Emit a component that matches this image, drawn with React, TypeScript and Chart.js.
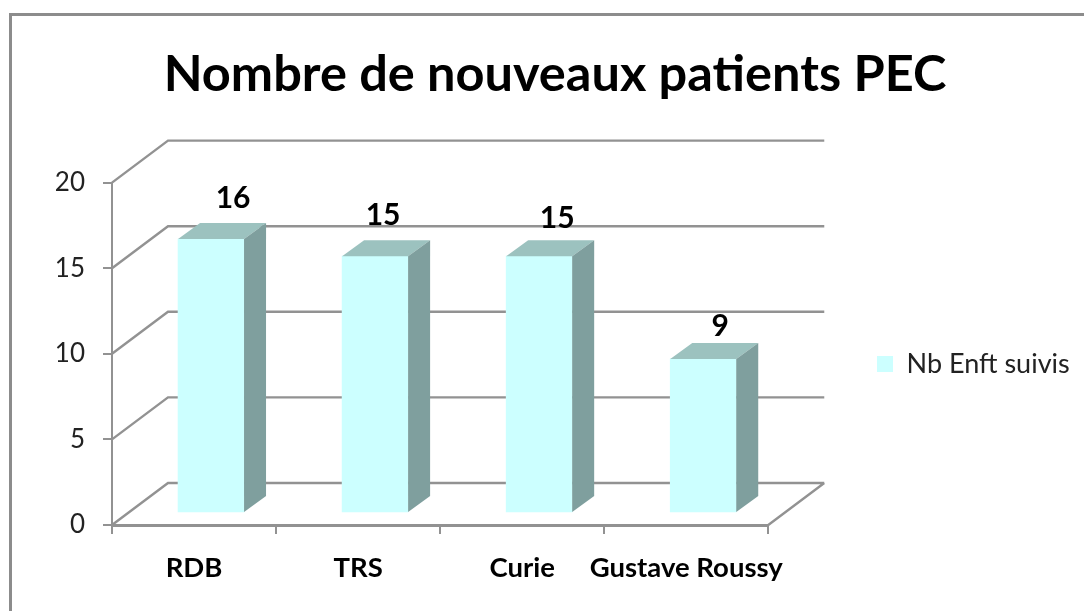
import React, { useEffect, useRef } from "react";
import { Chart, registerables } from "chart.js";

Chart.register(...registerables);

const categories = ["RDB", "TRS", "Curie", "Gustave Roussy"];
const seriesName = "Nb Enft suivis";
const values = [16, 15, 15, 9];
const titleText = "Nombre de nouveaux patients PEC";

const FONT = "Lato, Carlito, sans-serif";
const GRID = "#929292";
const WALL = { dx: 56, dy: 42 };
const BAR_SHIFT = { dx: 17, dy: 12 };
const BAR_DEPTH = { dx: 22, dy: 16 };
const LABEL_NUDGE = [
  { dx: 0, dy: 0 },
  { dx: -14, dy: 0 },
  { dx: -4, dy: 3 },
  { dx: -5, dy: 8 },
];

const scene3d = {
  id: "scene3d",
  afterLayout(chart: any) {
    const lg = chart.legend;
    const w = lg.right - lg.left;
    const h = lg.bottom - lg.top;
    lg.left = 869;
    lg.right = 869 + w;
    lg.top = 364 - h / 2;
    lg.bottom = 364 + h / 2;
    chart.titleBlock.left = 26;
    chart.titleBlock.right = 1084;
  },
  beforeDraw(chart: any) {
    const { ctx, scales, chartArea } = chart;
    ctx.save();
    ctx.strokeStyle = "#8c8c8c";
    ctx.lineWidth = 3;
    ctx.beginPath();
    ctx.moveTo(10.5, 611);
    ctx.lineTo(10.5, 14.5);
    ctx.lineTo(1084, 14.5);
    ctx.stroke();

    ctx.strokeStyle = GRID;
    ctx.lineWidth = 2.4;
    const { left, right } = chartArea;
    ctx.beginPath();
    scales.y.ticks.forEach((t: any) => {
      const y = scales.y.getPixelForValue(t.value);
      ctx.moveTo(left, y);
      ctx.lineTo(left + WALL.dx, y - WALL.dy);
      ctx.lineTo(right + WALL.dx, y - WALL.dy);
    });
    const y0 = scales.y.getPixelForValue(0);
    ctx.moveTo(right, y0);
    ctx.lineTo(right + WALL.dx, y0 - WALL.dy);
    ctx.stroke();
    ctx.restore();
  },
  beforeDatasetsDraw(chart: any) {
    const { ctx } = chart;
    ctx.save();
    ctx.translate(BAR_SHIFT.dx, -BAR_SHIFT.dy);
  },
  afterDatasetsDraw(chart: any) {
    const { ctx } = chart;
    ctx.restore();
    const meta = chart.getDatasetMeta(0);
    ctx.save();
    meta.data.forEach((bar: any, i: number) => {
      const hw = bar.width / 2;
      const l = bar.x - hw + BAR_SHIFT.dx;
      const r = bar.x + hw + BAR_SHIFT.dx;
      const t = bar.y - BAR_SHIFT.dy;
      const b = bar.base - BAR_SHIFT.dy;
      const { dx, dy } = BAR_DEPTH;
      ctx.fillStyle = "#9CC2BF";
      ctx.beginPath();
      ctx.moveTo(l, t);
      ctx.lineTo(l + dx, t - dy);
      ctx.lineTo(r + dx, t - dy);
      ctx.lineTo(r, t);
      ctx.closePath();
      ctx.fill();
      ctx.fillStyle = "#7F9F9E";
      ctx.beginPath();
      ctx.moveTo(r, t);
      ctx.lineTo(r + dx, t - dy);
      ctx.lineTo(r + dx, b - dy);
      ctx.lineTo(r, b);
      ctx.closePath();
      ctx.fill();

      const n = LABEL_NUDGE[i];
      ctx.fillStyle = "#000";
      ctx.font = `bold 30px ${FONT}`;
      ctx.textAlign = "center";
      ctx.textBaseline = "middle";
      ctx.fillText(String(values[i]), (l + r) / 2 + dx + n.dx, t - 41 + n.dy);
    });
    ctx.restore();
  },
};

export default function App() {
  const ref = useRef<HTMLCanvasElement>(null);

  useEffect(() => {
    document.body.style.margin = "0";
    document.body.style.background = "#fff";
    const chart = new Chart(ref.current!, {
      type: "bar",
      data: {
        labels: categories,
        datasets: [
          {
            label: seriesName,
            data: values,
            backgroundColor: "#CCFFFF",
            borderWidth: 0,
            barThickness: 66,
            clip: false,
          } as any,
        ],
      },
      options: {
        responsive: false,
        animation: false,
        layout: { padding: { left: 0, right: 105, top: 0, bottom: 0 } },
        plugins: {
          title: {
            display: true,
            text: titleText,
            color: "#000",
            font: { family: FONT, size: 50.5, weight: "bold" },
            padding: { top: 44, bottom: 78 },
          },
          legend: {
            display: true,
            position: "right",
            labels: {
              color: "#222",
              font: { family: FONT, size: 27 },
              boxWidth: 16,
              boxHeight: 16,
              padding: 8,
            },
          },
          tooltip: { enabled: false },
        },
        scales: {
          x: {
            afterFit: (s: any) => {
              s.height = 86;
            },
            grid: {
              drawOnChartArea: false,
              drawTicks: true,
              tickLength: 9,
              color: GRID,
              lineWidth: 2,
            },
            border: { color: GRID, width: 3 },
            ticks: {
              color: "#000",
              padding: 18,
              maxRotation: 0,
              autoSkip: false,
              font: { family: FONT, size: 27.5, weight: "bold" },
            },
          },
          y: {
            min: 0,
            max: 20,
            afterFit: (s: any) => {
              s.width = 112;
            },
            grid: {
              drawOnChartArea: false,
              drawTicks: true,
              tickLength: 9,
              color: GRID,
              lineWidth: 2,
            },
            border: { color: GRID, width: 2 },
            ticks: {
              stepSize: 5,
              color: "#222",
              padding: 18,
              font: { family: FONT, size: 26 },
            },
          },
        },
      },
      plugins: [scene3d],
    } as any);
    return () => chart.destroy();
  }, []);

  return <canvas ref={ref} width={1084} height={611} style={{ display: "block" }} />;
}
